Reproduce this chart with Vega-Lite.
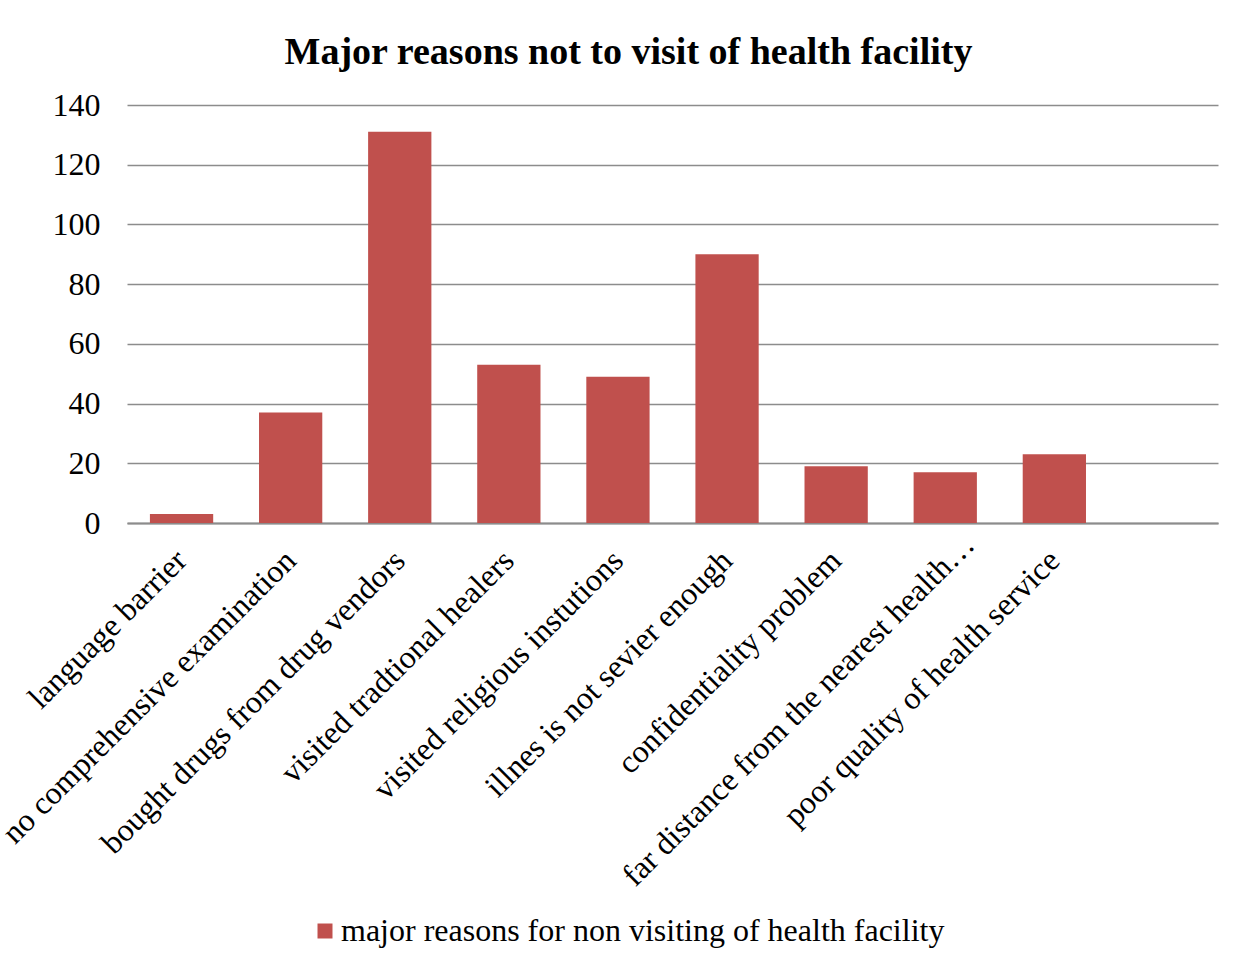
{
  "$schema": "https://vega.github.io/schema/vega-lite/v6.json",
  "width": 1091,
  "height": 418,
  "autosize": "none",
  "padding": {"left": 127, "top": 105, "right": 23, "bottom": 443},
  "background": "white",
  "config": {
    "font": "Liberation Serif",
    "view": {"stroke": null}
  },
  "title": {
    "text": "Major reasons not to visit of health facility",
    "font": "Liberation Serif",
    "fontSize": 38,
    "fontWeight": "bold",
    "color": "black",
    "anchor": "middle",
    "dx": -44,
    "offset": 17
  },
  "data": {
    "values": [
      {"reason": "language barrier", "count": 3},
      {"reason": "no comprehensive examination", "count": 37},
      {"reason": "bought drugs from drug vendors", "count": 131},
      {"reason": "visited tradtional healers", "count": 53},
      {"reason": "visited religious instutions", "count": 49},
      {"reason": "illnes is not sevier enough", "count": 90},
      {"reason": "confidentiality problem", "count": 19},
      {"reason": "far distance from the nearest health…", "count": 17},
      {"reason": "poor quality of health service", "count": 23}
    ]
  },
  "mark": {"type": "bar"},
  "encoding": {
    "x": {
      "field": "reason",
      "type": "nominal",
      "sort": null,
      "scale": {
        "domain": ["language barrier", "no comprehensive examination", "bought drugs from drug vendors", "visited tradtional healers", "visited religious instutions", "illnes is not sevier enough", "confidentiality problem", "far distance from the nearest health…", "poor quality of health service", " "],
        "paddingInner": 0.42,
        "paddingOuter": 0.21
      },
      "axis": {
        "title": null,
        "labelAngle": -45,
        "labelAlign": "right",
        "labelBaseline": "middle",
        "labelFont": "Liberation Serif",
        "labelFontSize": 32,
        "labelColor": "black",
        "labelPadding": {"condition": {"test": "datum.value == 'far distance from the nearest health…'", "value": 16}, "value": 32},
        "labelOffset": {"condition": {"test": "datum.value == 'far distance from the nearest health…'", "value": 24}, "value": 0},
        "labelLimit": 1000,
        "labelOverlap": false,
        "ticks": false,
        "domainColor": "#8c8c8c",
        "domainWidth": 2,
        "grid": false
      }
    },
    "y": {
      "field": "count",
      "type": "quantitative",
      "scale": {"domain": [0, 140]},
      "axis": {
        "title": null,
        "values": [0, 20, 40, 60, 80, 100, 120, 140],
        "labelFont": "Liberation Serif",
        "labelFontSize": 32,
        "labelColor": "black",
        "labelPadding": 27,
        "ticks": false,
        "domain": false,
        "grid": true,
        "gridColor": "#8c8c8c",
        "gridWidth": 1.5
      }
    },
    "color": {
      "datum": "major reasons for non visiting of health facility",
      "type": "nominal",
      "scale": {"range": ["#C0504D"]},
      "legend": {
        "title": null,
        "orient": "none",
        "legendX": 182,
        "legendY": 810,
        "symbolType": "square",
        "symbolSize": 225,
        "symbolStrokeWidth": 0,
        "labelFont": "Liberation Serif",
        "labelFontSize": 32,
        "labelColor": "black",
        "labelLimit": 1000,
        "labelOffset": 0
      }
    }
  }
}
